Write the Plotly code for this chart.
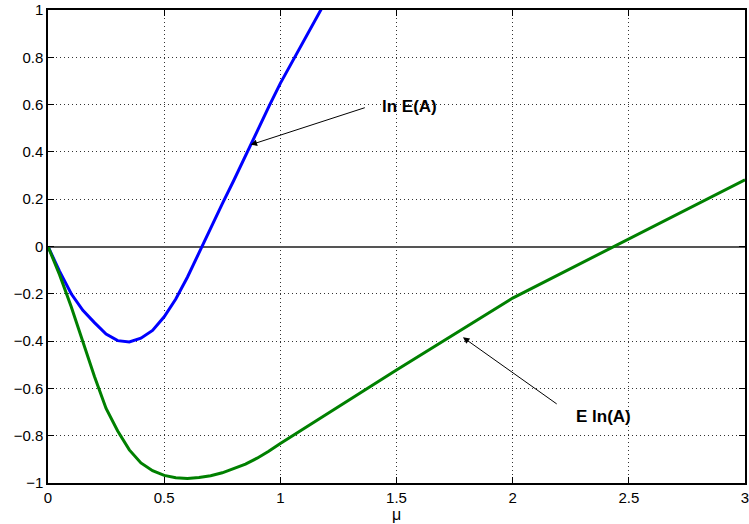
import plotly.graph_objects as go

mu = [0.0, 0.05, 0.1, 0.15, 0.2, 0.25, 0.3, 0.35, 0.4, 0.45, 0.5,
      0.55, 0.6, 0.65, 0.7, 0.75, 0.8, 0.85, 0.9, 0.95, 1.0]

ln_E_A = [0.0, -0.105, -0.20, -0.27, -0.322, -0.37, -0.398, -0.404, -0.388, -0.355, -0.297,
          -0.222, -0.13, -0.025, 0.08, 0.18, 0.28, 0.385, 0.487, 0.59, 0.69]
mu_blue_tail = [1.5]
ln_E_A_tail = [1.58]

E_ln_A = [0.0, -0.12, -0.255, -0.40, -0.55, -0.685, -0.78, -0.86, -0.915, -0.948, -0.968,
          -0.978, -0.981, -0.977, -0.969, -0.957, -0.94, -0.92, -0.895, -0.866, -0.833]
mu_green_tail = [1.5, 2.0, 3.0]
E_ln_A_tail = [-0.522, -0.218, 0.282]

x_ticks = [0, 0.5, 1, 1.5, 2, 2.5, 3]
y_ticks = [-1, -0.8, -0.6, -0.4, -0.2, 0, 0.2, 0.4, 0.6, 0.8, 1]

fig = go.Figure()
fig.add_trace(go.Scatter(x=mu + mu_blue_tail, y=ln_E_A + ln_E_A_tail, mode="lines",
                         line=dict(color="#0000FF", width=3), showlegend=False))
fig.add_trace(go.Scatter(x=mu + mu_green_tail, y=E_ln_A + E_ln_A_tail, mode="lines",
                         line=dict(color="#008000", width=3), showlegend=False))

font = dict(family="Liberation Sans, Arial, sans-serif", color="black")

axis_common = dict(
    showline=True, linecolor="black", linewidth=1.5, mirror="ticks",
    ticks="inside", ticklen=6, tickcolor="black", tickwidth=1.2,
    showgrid=True, gridcolor="#333333", griddash="1px,3px", gridwidth=1,
    tickfont=dict(size=15, **font), ticklabeloverflow="allow",
)

fig.update_xaxes(range=[0, 3], tickvals=x_ticks, zeroline=False,
                 title=dict(text="μ", font=dict(size=16, **font), standoff=2),
                 **axis_common)
fig.update_yaxes(range=[-1, 1], tickvals=y_ticks, zeroline=True,
                 zerolinecolor="#555555", zerolinewidth=1.5,
                 **axis_common)

# labels with arrows
annots = [
    dict(text="ln E(A)", x=1.556, y=0.591),
    dict(text="E ln(A)", x=2.389, y=-0.719),
]
for a in annots:
    fig.add_annotation(x=a["x"], y=a["y"], text="<b>%s</b>" % a["text"], showarrow=False,
                       font=dict(size=17, **font), xref="x", yref="y")

arrows = [
    dict(x=0.872, y=0.43, ax=1.370, ay=0.589),
    dict(x=1.786, y=-0.384, ax=2.196, ay=-0.670),
]
for a in arrows:
    fig.add_annotation(x=a["x"], y=a["y"], ax=a["ax"], ay=a["ay"], xref="x", yref="y",
                       axref="x", ayref="y", text="", showarrow=True,
                       arrowhead=2, arrowsize=1.3, arrowwidth=1, arrowcolor="black")

fig.update_layout(
    width=749, height=524,
    margin=dict(l=48, r=0, t=10, b=41),
    paper_bgcolor="white", plot_bgcolor="white",
    font=font,
)

fig.write_html("out.html")
